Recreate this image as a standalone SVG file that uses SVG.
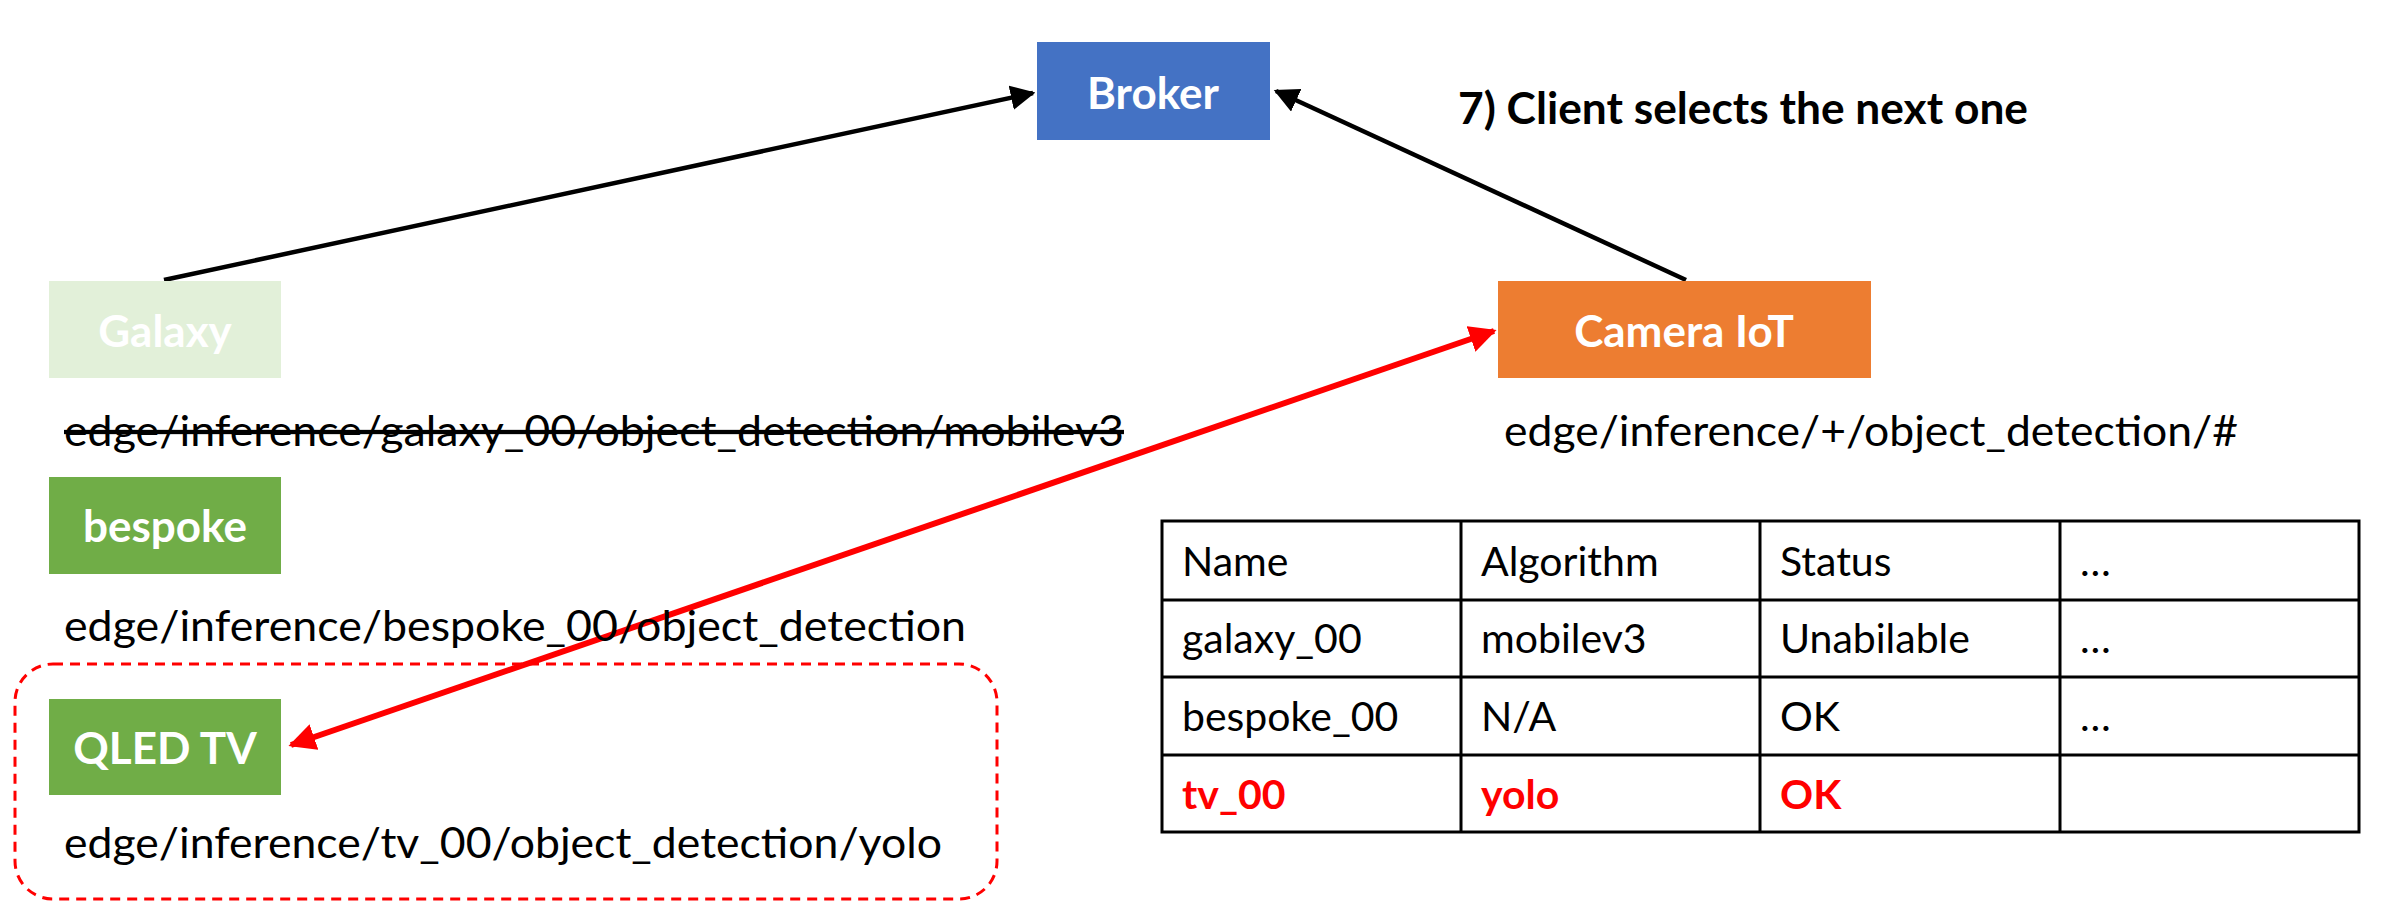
<svg xmlns="http://www.w3.org/2000/svg" width="2382" height="920" viewBox="0 0 2382 920">
<style>
.lbl{font-family:Lato,"Open Sans","Liberation Sans",sans-serif;font-weight:bold;font-size:44px;fill:#fff;text-anchor:middle;dominant-baseline:central}
.txt{font-family:Lato,"Open Sans","Liberation Sans",sans-serif;font-size:41px;fill:#000}
.top{font-size:43px}
.red{fill:#ff0000;font-weight:bold}
.cell{fill:none;stroke:#000;stroke-width:3}
</style>
<defs>
<marker id="ab" viewBox="0 0 10 10" refX="9" refY="5" markerWidth="5.5" markerHeight="5.5" orient="auto-start-reverse" markerUnits="strokeWidth"><path d="M0,0 L10,5 L0,10 z" fill="#000"/></marker>
<marker id="ar" viewBox="0 0 10 10" refX="9" refY="5" markerWidth="4.5" markerHeight="4.5" orient="auto-start-reverse" markerUnits="strokeWidth"><path d="M0,0 L10,5 L0,10 z" fill="#ff0000"/></marker>
</defs>
<rect width="2382" height="920" fill="#fff"/>
<g id="connectors">
<line x1="164" y1="280" x2="1033" y2="93" stroke="#000" stroke-width="4.5" marker-end="url(#ab)"/>
<line x1="1686" y1="280" x2="1276" y2="91" stroke="#000" stroke-width="4.5" marker-end="url(#ab)"/>
<line x1="1494" y1="331" x2="291" y2="745" stroke="#ff0000" stroke-width="6" marker-start="url(#ar)" marker-end="url(#ar)"/>
</g>
<g id="broker"><rect x="1037" y="42" width="233" height="98" fill="#4472C4"/><text class="lbl" x="1153" y="92">Broker</text></g>
<g id="caption"><text class="txt" x="1458" y="124" style="font-weight:bold;font-size:43px" textLength="570" lengthAdjust="spacingAndGlyphs">7) Client selects the next one</text></g>
<g id="galaxy"><rect x="49" y="281" width="232" height="97" fill="#E2F0D9"/><text class="lbl" x="165" y="330">Galaxy</text>
<text class="txt top" x="64" y="446" style="text-decoration:line-through" textLength="1060" lengthAdjust="spacingAndGlyphs">edge/inference/galaxy_00/object_detection/mobilev3</text></g>
<g id="bespoke"><rect x="49" y="477" width="232" height="97" fill="#70AD47"/><text class="lbl" x="165" y="525">bespoke</text>
<text class="txt top" x="64" y="641" textLength="902" lengthAdjust="spacingAndGlyphs">edge/inference/bespoke_00/object_detection</text></g>
<g id="qledtv"><rect x="15" y="664" width="982" height="235" rx="38" fill="none" stroke="#ff0000" stroke-width="3" stroke-dasharray="10,7"/>
<rect x="49" y="699" width="232" height="96" fill="#70AD47"/><text class="lbl" x="165" y="747">QLED TV</text>
<text class="txt top" x="64" y="858" textLength="878" lengthAdjust="spacingAndGlyphs">edge/inference/tv_00/object_detection/yolo</text></g>
<g id="camera"><rect x="1498" y="281" width="373" height="97" fill="#ED7D31"/><text class="lbl" x="1684" y="330">Camera IoT</text>
<text class="txt top" x="1504" y="446" textLength="734" lengthAdjust="spacingAndGlyphs">edge/inference/+/object_detection/#</text></g>
<g id="table">
<rect class="cell" x="1162" y="521" width="1197" height="311"/>
<line class="cell" x1="1461" y1="521" x2="1461" y2="832"/>
<line class="cell" x1="1760" y1="521" x2="1760" y2="832"/>
<line class="cell" x1="2060" y1="521" x2="2060" y2="832"/>
<line class="cell" x1="1162" y1="600" x2="2359" y2="600"/>
<line class="cell" x1="1162" y1="677" x2="2359" y2="677"/>
<line class="cell" x1="1162" y1="755" x2="2359" y2="755"/>
<text class="txt" x="1182" y="576">Name</text><text class="txt" x="1481" y="576">Algorithm</text><text class="txt" x="1780" y="576">Status</text><text class="txt" x="2080" y="576">…</text>
<text class="txt" x="1182" y="653">galaxy_00</text><text class="txt" x="1481" y="653">mobilev3</text><text class="txt" x="1780" y="653">Unabilable</text><text class="txt" x="2080" y="653">…</text>
<text class="txt" x="1182" y="731">bespoke_00</text><text class="txt" x="1481" y="731">N/A</text><text class="txt" x="1780" y="731">OK</text><text class="txt" x="2080" y="731">…</text>
<text class="txt red" x="1182" y="809">tv_00</text><text class="txt red" x="1481" y="809">yolo</text><text class="txt red" x="1780" y="809">OK</text>
</g>
</svg>
